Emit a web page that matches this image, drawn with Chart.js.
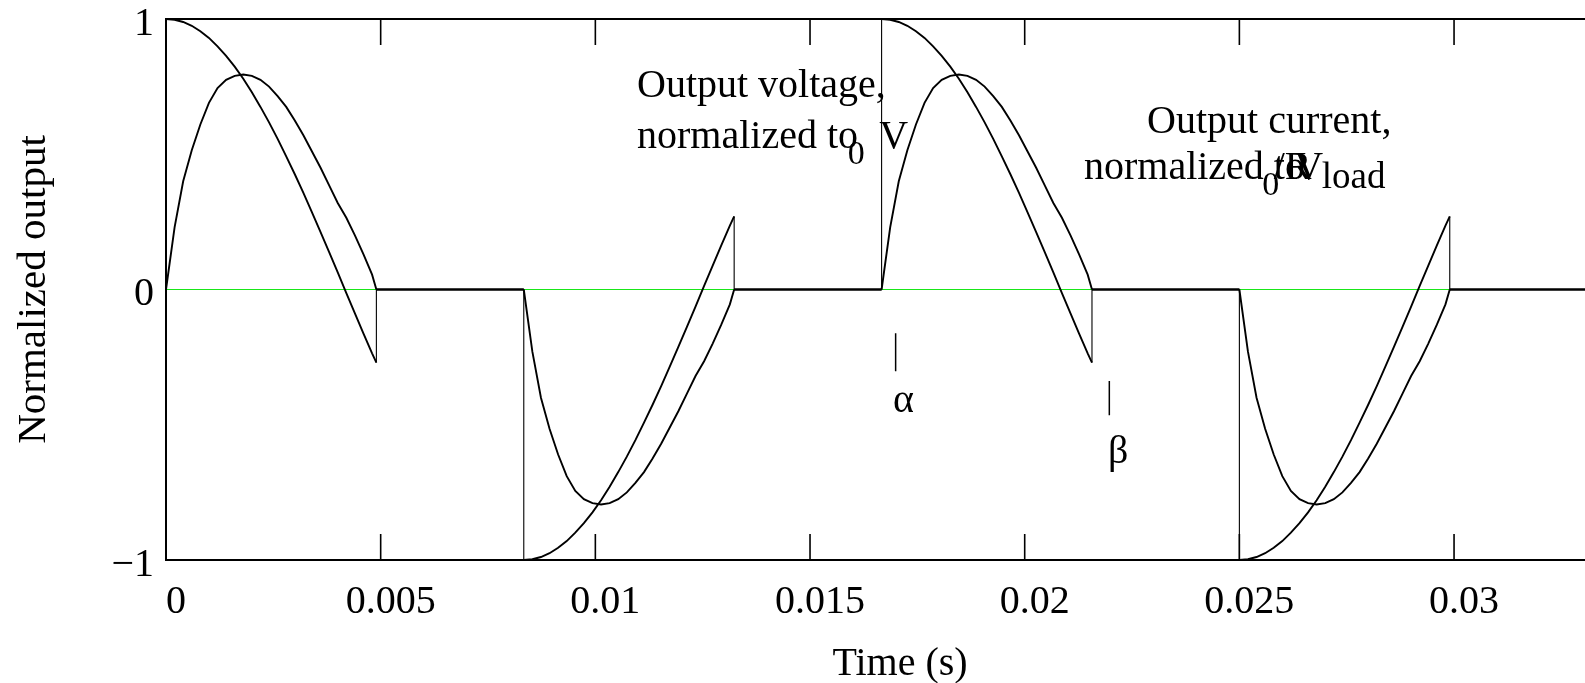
<!DOCTYPE html>
<html>
<head>
<meta charset="utf-8">
<title>Normalized output</title>
<script src="https://cdn.jsdelivr.net/npm/chart.js@4.4.0/dist/chart.umd.min.js"></script>
<style>
  html, body { margin: 0; padding: 0; background: #fff; }
  #wrap { width: 1585px; height: 683px; position: relative; }
</style>
</head>
<body>
<div id="wrap"><canvas id="myChart"></canvas></div>
<script>
// one conduction interval, time measured from the firing instant (s)
const offsets = [0, 0.0002, 0.0004, 0.0006, 0.0008, 0.0010, 0.0012, 0.0014, 0.0016, 0.0018,
  0.0020, 0.0022, 0.0024, 0.0026, 0.0028, 0.0030, 0.0032, 0.0034, 0.0036, 0.0038,
  0.0040, 0.0042, 0.0044, 0.0046, 0.0048, 0.0049];
const voltageShape = [1.00, 0.997, 0.989, 0.975, 0.955, 0.930, 0.899, 0.864, 0.824, 0.779,
  0.729, 0.675, 0.618, 0.557, 0.492, 0.426, 0.357, 0.285, 0.212, 0.138,
  0.063, -0.013, -0.088, -0.163, -0.236, -0.27];
const currentShape = [0, 0.23, 0.40, 0.515, 0.61, 0.69, 0.745, 0.775, 0.79, 0.795,
  0.79, 0.775, 0.75, 0.715, 0.675, 0.625, 0.57, 0.51, 0.45, 0.385,
  0.32, 0.265, 0.20, 0.13, 0.055, 0];

// firing instants and sign of each half cycle
const firingTimes = [0, 0.008333, 0.016667, 0.025];
const polarity = [1, -1, 1, -1];
const tEnd = 0.03305;

const xTicks = [0, 0.005, 0.01, 0.015, 0.02, 0.025, 0.03];
const yTicks = [-1, 0, 1];

// markers for firing and extinction angles
const alphaT = 0.016994;
const betaT = 0.021971;

const serif = '"Liberation Serif", "Times New Roman", serif';

function buildSeries(shape) {
  const pts = [];
  firingTimes.forEach((t0, k) => {
    pts.push({ x: t0, y: 0 });
    offsets.forEach((dt, i) => pts.push({ x: t0 + dt, y: polarity[k] * shape[i] }));
    pts.push({ x: t0 + offsets[offsets.length - 1], y: 0 });
  });
  pts.push({ x: tEnd, y: 0 });
  return pts;
}

// vertical jumps are drawn thinner than the waveform itself
const jumpWidth = c => (c.p0.parsed.x === c.p1.parsed.x ? 1.1 : 1.9);

// frame, inward tick marks and the text notes
const decorations = {
  id: 'decorations',
  afterDraw(chart) {
    const { ctx, chartArea: a, scales: { x, y } } = chart;
    ctx.save();
    ctx.strokeStyle = '#000';
    ctx.lineWidth = 2;
    ctx.beginPath();
    ctx.moveTo(a.right, a.top); ctx.lineTo(a.left, a.top);
    ctx.lineTo(a.left, a.bottom); ctx.lineTo(a.right, a.bottom);
    ctx.stroke();

    ctx.lineWidth = 1.6;
    xTicks.forEach(v => {
      const px = x.getPixelForValue(v);
      ctx.beginPath();
      ctx.moveTo(px, a.top); ctx.lineTo(px, a.top + 26);
      ctx.moveTo(px, a.bottom); ctx.lineTo(px, a.bottom - 26);
      ctx.stroke();
    });

    // alpha / beta marks
    ctx.lineWidth = 1.5;
    ctx.beginPath();
    ctx.moveTo(x.getPixelForValue(alphaT), y.getPixelForValue(-0.162));
    ctx.lineTo(x.getPixelForValue(alphaT), y.getPixelForValue(-0.302));
    ctx.moveTo(x.getPixelForValue(betaT), y.getPixelForValue(-0.338));
    ctx.lineTo(x.getPixelForValue(betaT), y.getPixelForValue(-0.465));
    ctx.stroke();

    ctx.fillStyle = '#000';
    ctx.textBaseline = 'alphabetic';
    ctx.textAlign = 'left';
    const put = (txt, tx, vy, size) => {
      ctx.font = size + 'px ' + serif;
      ctx.fillText(txt, x.getPixelForValue(tx), y.getPixelForValue(vy));
    };
    put('\u03b1', 0.016933, -0.454, 40);
    put('\u03b2', 0.021941, -0.642, 40);

    put('Output voltage,', 0.01097, 0.711, 40);
    put('normalized to', 0.01097, 0.523, 40);
    put('0', 0.01588, 0.465, 34);
    put('V', 0.01661, 0.523, 40);

    put('Output current,', 0.02285, 0.578, 40);
    put('normalized to', 0.02138, 0.408, 40);
    put('0', 0.02553, 0.350, 34);
    put('/R', 0.02580, 0.408, 40);
    put('V', 0.02628, 0.408, 40);
    put('load', 0.02692, 0.375, 37);

    ctx.textAlign = 'center';
    ctx.font = '40px ' + serif;
    ctx.fillText('Time (s)', x.getPixelForValue(0.017096), chart.height - 8);
    ctx.restore();
  }
};

new Chart(document.getElementById('myChart'), {
  type: 'line',
  data: {
    datasets: [
      {
        label: 'Output voltage',
        data: buildSeries(voltageShape),
        borderColor: '#000',
        borderWidth: 1.9,
        segment: { borderWidth: jumpWidth },
        pointRadius: 0,
        tension: 0,
        clip: 4
      },
      {
        label: 'Output current',
        data: buildSeries(currentShape),
        borderColor: '#000',
        borderWidth: 1.9,
        segment: { borderWidth: jumpWidth },
        pointRadius: 0,
        tension: 0,
        clip: 4
      },
      {
        label: 'zero',
        data: [{ x: 0, y: 0 }, { x: tEnd, y: 0 }],
        borderColor: '#19e619',
        borderWidth: 1.2,
        pointRadius: 0
      }
    ]
  },
  options: {
    responsive: true,
    maintainAspectRatio: false,
    animation: false,
    events: [],
    layout: { padding: { top: 19, right: 0, bottom: 0, left: 0 } },
    plugins: { legend: { display: false }, tooltip: { enabled: false } },
    scales: {
      x: {
        type: 'linear',
        min: 0,
        max: tEnd,
        grid: { display: false, drawTicks: false },
        border: { display: false },
        afterBuildTicks: s => { s.ticks = xTicks.map(v => ({ value: v })); },
        afterFit: s => { s.height = 123; s.paddingLeft = 0; s.paddingRight = 0; },
        ticks: {
          color: '#000',
          font: { family: serif, size: 40 },
          padding: 18,
          labelOffset: 10,
          maxRotation: 0,
          autoSkip: false,
          callback: v => String(v)
        }
      },
      y: {
        min: -1,
        max: 1,
        grid: { display: false, drawTicks: false },
        border: { display: false },
        afterBuildTicks: s => { s.ticks = yTicks.map(v => ({ value: v })); },
        afterFit: s => { s.width = 166; s.paddingTop = 0; s.paddingBottom = 0; },
        ticks: {
          color: '#000',
          font: { family: serif, size: 40 },
          padding: 12,
          labelOffset: 5,
          callback: v => (v < 0 ? '\u2212' + Math.abs(v) : String(v))
        },
        title: {
          display: true,
          text: 'Normalized output',
          color: '#000',
          font: { family: serif, size: 41 },
          padding: { top: 10, bottom: 0 }
        }
      }
    }
  },
  plugins: [decorations]
});
</script>
</body>
</html>
